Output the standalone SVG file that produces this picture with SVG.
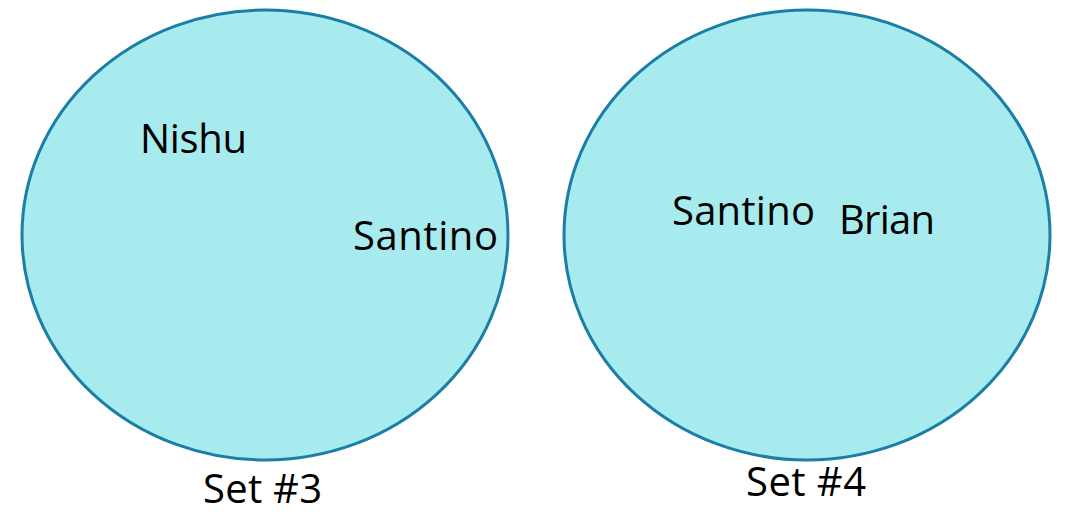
<svg xmlns="http://www.w3.org/2000/svg" width="1066" height="517" viewBox="0 0 1066 517">
  <style>
    .set { fill: #a8ebef; stroke: #1a7ea6; stroke-width: 3; }
    .lbl { font-family: "Open Sans", "Liberation Sans", sans-serif; font-size: 40px; fill: #000; }
  </style>
  <rect width="1066" height="517" fill="#ffffff"/>
  <g id="set3">
    <ellipse class="set" cx="265" cy="235" rx="243" ry="225"/>
    <text class="lbl" x="140" y="153" textLength="107">Nishu</text>
    <text class="lbl" x="353" y="250" textLength="145">Santino</text>
    <text class="lbl" x="203" y="503" textLength="119">Set #3</text>
  </g>
  <g id="set4">
    <ellipse class="set" cx="807" cy="235" rx="243" ry="225"/>
    <text class="lbl" x="672" y="225" textLength="143">Santino</text>
    <text class="lbl" x="839" y="234" textLength="96">Brian</text>
    <text class="lbl" x="746" y="496" textLength="120">Set #4</text>
  </g>
  <g id="connectors"/>
</svg>
